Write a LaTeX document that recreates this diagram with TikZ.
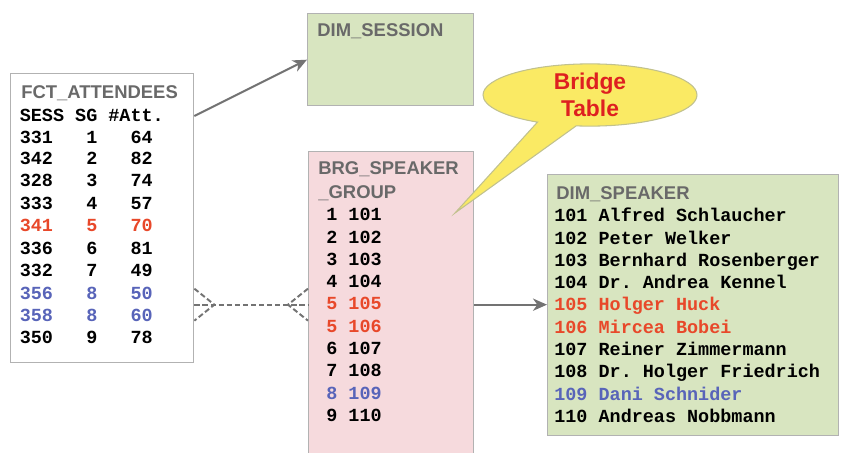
\documentclass[tikz,border=0pt]{standalone}
\usepackage{fontspec}
\setsansfont{Liberation Sans}
\setmonofont{Liberation Mono}
\usetikzlibrary{calc,positioning,shapes.callouts,arrows.meta}

\definecolor{boxgray}{RGB}{178,178,178}
\definecolor{titlegray}{RGB}{105,105,105}
\definecolor{linegray}{RGB}{115,115,115}
\definecolor{rowred}{RGB}{232,72,42}
\definecolor{rowblue}{RGB}{88,100,185}
\definecolor{dimgreen}{RGB}{216,229,192}
\definecolor{brgpink}{RGB}{246,218,221}
\definecolor{calloutyellow}{RGB}{250,234,100}
\definecolor{bridgered}{RGB}{222,32,32}

\tikzset{
	tbl/.style={draw=boxgray, line width=0.8pt, inner sep=0, anchor=north west},
	title/.style={font=\sffamily\bfseries\fontsize{10.5}{12}\selectfont, text=titlegray, anchor=base west, inner sep=0},
	row/.style={font=\ttfamily\bfseries\fontsize{10.5}{12}\selectfont, anchor=base west, inner sep=0},
	link/.style={draw=linegray, line width=1.1pt},
	crow/.style={draw=linegray, line width=1.1pt, dash pattern=on 3pt off 1.6pt}
}

\begin{document}
\begin{tikzpicture}[x=0.02cm,y=-0.02cm]
	\useasboundingbox (0,0) rectangle (843,453);

	% Boxes of the four tables
	\node [tbl, fill=white, minimum width=3.66cm, minimum height=5.78cm] (fct) at (10,73) {};
	\node [tbl, fill=dimgreen, minimum width=3.32cm, minimum height=1.84cm] (ses) at (307,13) {};
	\node [tbl, fill=brgpink, minimum width=3.3cm, minimum height=6.12cm] (brg) at (308,151) {};
	\node [tbl, fill=dimgreen, minimum width=5.82cm, minimum height=5.22cm] (spk) at (547,174) {};

	% FCT_ATTENDEES
	\node [title] (fcttitle) at (21,98.6) {FCT\_ATTENDEES};
	\node [row] (fcthead) at (19.5,121) {SESS SG \#Att.};
	\node [row] (fct1) at (19.5,143.4) {331~~~1~~~64};
	\node [row] (fct2) at (19.5,164.5) {342~~~2~~~82};
	\node [row] (fct3) at (19.5,186.5) {328~~~3~~~74};
	\node [row] (fct4) at (19.5,209) {333~~~4~~~57};
	\node [row, text=rowred] (fct5) at (19.5,231.4) {341~~~5~~~70};
	\node [row] (fct6) at (19.5,254) {336~~~6~~~81};
	\node [row] (fct7) at (19.5,276.7) {332~~~7~~~49};
	\node [row, text=rowblue] (fct8) at (19.5,299) {356~~~8~~~50};
	\node [row, text=rowblue] (fct9) at (19.5,321.3) {358~~~8~~~60};
	\node [row] (fct10) at (19.5,343.4) {350~~~9~~~78};

	% DIM_SESSION
	\node [title] (sestitle) at (317,36.6) {DIM\_SESSION};

	% BRG_SPEAKER_GROUP
	\node [title] (brgtitle1) at (318,174.6) {BRG\_SPEAKER};
	\node [title] (brgtitle2) at (318,198.6) {\_GROUP};
	\node [row] (brg1) at (326,220.7) {1 101};
	\node [row] (brg2) at (326,243) {2 102};
	\node [row] (brg3) at (326,265.3) {3 103};
	\node [row] (brg4) at (326,287.6) {4 104};
	\node [row, text=rowred] (brg5) at (326,309.9) {5 105};
	\node [row, text=rowred] (brg6) at (326,332.2) {5 106};
	\node [row] (brg7) at (326,354.5) {6 107};
	\node [row] (brg8) at (326,376.8) {7 108};
	\node [row, text=rowblue] (brg9) at (326,399.1) {8 109};
	\node [row] (brg10) at (326,421.4) {9 110};

	% DIM_SPEAKER
	\node [title] (spktitle) at (556,199.6) {DIM\_SPEAKER};
	\node [row] (spk1) at (554,221.7) {101 Alfred Schlaucher};
	\node [row] (spk2) at (554,244) {102 Peter Welker};
	\node [row] (spk3) at (554,266.3) {103 Bernhard Rosenberger};
	\node [row] (spk4) at (554,288.6) {104 Dr. Andrea Kennel};
	\node [row, text=rowred] (spk5) at (554,310.9) {105 Holger Huck};
	\node [row, text=rowred] (spk6) at (554,333.2) {106 Mircea Bobei};
	\node [row] (spk7) at (554,355.5) {107 Reiner Zimmermann};
	\node [row] (spk8) at (554,377.8) {108 Dr. Holger Friedrich};
	\node [row, text=rowblue] (spk9) at (554,400.1) {109 Dani Schnider};
	\node [row] (spk10) at (554,422.4) {110 Andreas Nobbmann};

	% Links between the tables
	\draw [link, -{Stealth[length=8pt,width=7pt,inset=2.5pt]}] ([yshift=-0.86cm]fct.north east) -- (ses.west);
	\draw [link, -{Stealth[length=8pt,width=7pt,inset=2.5pt]}] (brg.east) -- (brg.east -| spk.west);

	% Dashed many-to-many link
	\coordinate (lft) at ([xshift=0.4cm]brg.west -| fct.east);
	\coordinate (rgt) at ([xshift=-0.4cm]brg.west);
	\draw [crow] (brg.west -| fct.east) -- (brg.west);
	\draw [crow] ([yshift=0.32cm]brg.west -| fct.east) -- (lft) -- ([yshift=-0.32cm]brg.west -| fct.east);
	\draw [crow] ([yshift=0.32cm]brg.west) -- (rgt) -- ([yshift=-0.32cm]brg.west);

	% Callout
	\coordinate (tip) at (455,213);
	\node [ellipse callout, draw=boxgray!80!yellow, line width=0.6pt, fill=calloutyellow,
		minimum width=4.28cm, minimum height=1.2cm, inner sep=0,
		callout absolute pointer=(tip), callout pointer arc=22,
		font=\sffamily\bfseries\fontsize{13}{15.5}\selectfont, text=bridgered, align=center] (bridge) at (590,95) {Bridge\\Table};
\end{tikzpicture}
\end{document}
